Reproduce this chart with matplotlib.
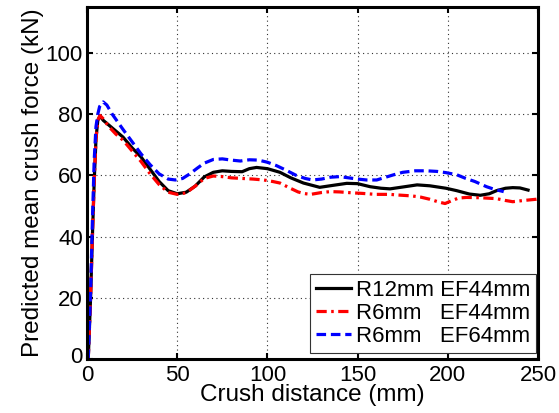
import matplotlib
matplotlib.use("Agg")
import matplotlib.pyplot as plt
import matplotlib.transforms as mtransforms

plt.rcParams['font.family'] = ['Liberation Sans', 'DejaVu Sans']

# Crush distance (mm) / predicted mean crush force (kN)
r12_ef44_x = [0.7, 2, 3, 4, 5, 6, 7.2, 9, 12, 16, 20, 25, 30, 35, 40, 45, 50, 55, 60, 65, 70, 75, 80,
              86, 90, 94, 100, 107, 113, 120, 129, 137, 144, 150, 157, 163, 168, 175, 183, 190, 199,
              205, 212, 218, 223, 227, 232, 236, 240, 244.5]
r12_ef44_y = [0, 20, 40, 58, 72, 78, 79.4, 78, 76.5, 74.5, 72.5, 69, 66, 62, 58, 55, 54, 54.5, 56.5,
              59.5, 61, 61.5, 61.3, 61.2, 62.2, 62.6, 62.2, 61, 59.2, 57.5, 56.1, 56.8, 57.4, 57.3,
              56.3, 55.8, 55.6, 56.2, 56.9, 56.6, 55.8, 55, 53.9, 53.5, 54, 55, 55.8, 56, 55.9, 55.2]

r6_ef44_x = [0.7, 2, 3, 4, 5, 6, 7.2, 9, 12, 16, 20, 25, 30, 35, 40, 45, 50, 55, 60, 65, 70, 75, 80,
             86, 92, 98, 103, 107, 112, 117, 120, 124, 130, 135, 140, 147, 153, 160, 168, 172, 180,
             185, 190, 195, 198.5, 202, 206, 210.5, 218, 227, 232, 236, 242, 249, 250]
r6_ef44_y = [0, 20, 40, 58, 72, 78, 79.6, 78.5, 76, 73.5, 71.5, 68, 64.5, 60.5, 57, 54.5, 53.8, 54.3,
             56.5, 59, 59.8, 59.6, 59.2, 59, 58.8, 58.5, 58, 57.5, 56, 54.6, 54.1, 53.8, 54.4, 54.7,
             54.6, 54.3, 54.1, 53.8, 53.8, 53.6, 53.3, 52.9, 52.2, 51.3, 50.8, 51.7, 52.6, 52.8,
             52.7, 52.4, 51.8, 51.4, 51.8, 52.2, 52.3]

r6_ef64_x = [0.7, 2, 3, 4, 5, 6, 7, 9, 11, 14, 17, 20, 25, 30, 35, 40, 45, 49, 53, 57, 61, 65, 70,
             75, 80, 85, 90, 95, 100, 105, 110, 116, 121, 125, 130, 135, 140, 145, 150, 155, 160.6,
             165, 170, 175, 182, 188, 194, 199, 205, 210, 215, 221.5, 226, 231]
r6_ef64_y = [0, 22, 45, 65, 76, 80, 82.5, 84, 83, 80, 77.5, 75, 71, 67, 63.5, 60.5, 58.8, 58.5, 59,
             60.5, 62.3, 64, 65.2, 65.4, 65, 64.7, 65.1, 65, 64.3, 63.2, 61.8, 60, 59, 58.5, 58.8,
             59.4, 59.6, 59.2, 58.8, 58.5, 58.5, 59.3, 60.2, 61, 61.5, 61.5, 61.3, 60.9, 60.2, 59,
             58, 56.3, 55.4, 54.7]

series_labels = ['R12mm EF44mm', 'R6mm   EF44mm', 'R6mm   EF64mm']
x_ticks = [0, 50, 100, 150, 200, 250]
y_ticks = [0, 20, 40, 60, 80, 100]

fig = plt.figure(figsize=(5.59, 4.13), dpi=100)
ax = fig.add_axes([0.1556, 0.1308, 0.8068, 0.852])

ax.plot(r12_ef44_x, r12_ef44_y, color='black', lw=2.3, ls='-', label=series_labels[0])
ax.plot(r6_ef44_x, r6_ef44_y, color='red', lw=2.3, dashes=(3.2, 1.4, 0.8, 1.4), label=series_labels[1])
ax.plot(r6_ef64_x, r6_ef64_y, color='blue', lw=2.3, dashes=(3.0, 1.5), label=series_labels[2])

ax.set_xlim(0, 250)
ax.set_ylim(0, 115)
ax.set_xticks(x_ticks)
ax.set_yticks(y_ticks)
ax.tick_params(direction='in', length=4, width=1.5, top=True, right=True, labelsize=16)
ax.tick_params(axis='x', pad=4)
ax.tick_params(axis='y', pad=3)
ax.grid(True, ls=(0, (1, 3)), color='#333333', lw=0.8)
for s in ax.spines.values():
    s.set_linewidth(2.2)

# lift the y-axis zero label a little so it clears the x-axis zero label
zero_lbl = ax.get_yticklabels()[0]
zero_lbl.set_transform(zero_lbl.get_transform() +
                       mtransforms.ScaledTranslation(0, 3 / 72, fig.dpi_scale_trans))

ax.set_xlabel('Crush distance (mm)', fontsize=17.5, labelpad=-1)
ax.set_ylabel('Predicted mean crush force (kN)', fontsize=17.5, labelpad=1)

leg = ax.legend(loc='lower right', bbox_to_anchor=(1.0, 0.012), fontsize=16, fancybox=False,
                framealpha=1, edgecolor='#333333', handlelength=1.6, handletextpad=0.2,
                borderpad=0.25, labelspacing=0.1, borderaxespad=0.1)
leg.get_frame().set_linewidth(0.8)

fig.savefig('out.png', dpi=100)
